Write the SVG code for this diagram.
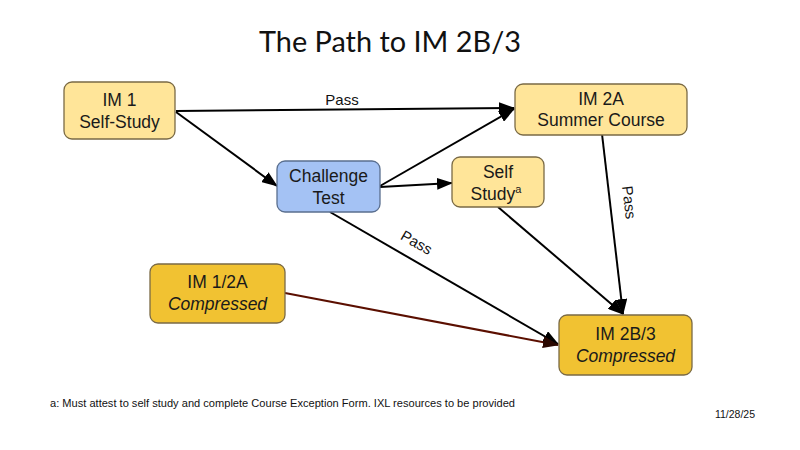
<svg xmlns="http://www.w3.org/2000/svg" width="800" height="450" viewBox="0 0 800 450">
<style>
  .box { stroke: #7a6a45; stroke-width: 1.3; }
  .lt { fill: #ffe599; }
  .bl { fill: #a4c2f4; stroke: #5a6f8f; }
  .dk { fill: #f1c232; }
  .t { font-family: "Liberation Sans", Arial, sans-serif; font-size: 17.5px; fill: #1a1a1a; text-anchor: middle; }
  .it { font-style: italic; }
  .lbl { font-family: "Liberation Sans", Arial, sans-serif; font-size: 15px; fill: #111; text-anchor: middle; }
  .ln { stroke: #000; stroke-width: 2; fill: none; marker-end: url(#ah); }
  .red { stroke: #5b0f00; stroke-width: 2; fill: none; marker-end: url(#ahr); }
</style>
<defs>
  <marker id="ah" markerUnits="userSpaceOnUse" markerWidth="16" markerHeight="12" refX="15" refY="6" orient="auto">
    <path d="M0,0 L16,6 L0,12 Z" fill="#000"/>
  </marker>
  <marker id="ahr" markerUnits="userSpaceOnUse" markerWidth="16" markerHeight="12" refX="15" refY="6" orient="auto">
    <path d="M0,0 L16,6 L0,12 Z" fill="#2a0800"/>
  </marker>
</defs>
<rect width="800" height="450" fill="#fff"/>
<text x="390" y="52" font-family="Lato, 'Open Sans', sans-serif" font-size="28" fill="#111" text-anchor="middle" textLength="262" lengthAdjust="spacingAndGlyphs">The Path to IM 2B/3</text>

<g id="connectors">
  <line class="ln" x1="176" y1="111" x2="514" y2="108"/>
  <text class="lbl" x="342" y="105">Pass</text>
  <line class="ln" x1="176" y1="112" x2="277" y2="186"/>
  <line class="ln" x1="380" y1="186" x2="514" y2="109"/>
  <line class="ln" x1="380" y1="187" x2="452" y2="183"/>
  <line class="ln" x1="602" y1="134" x2="623" y2="314"/>
  <text class="lbl" transform="translate(624,203) rotate(83)">Pass</text>
  <line class="ln" x1="498" y1="207" x2="623" y2="314"/>
  <line class="ln" x1="330" y1="212" x2="558" y2="344"/>
  <text class="lbl" transform="translate(414,247) rotate(30)">Pass</text>
  <line class="red" x1="285" y1="293" x2="558" y2="345"/>
</g>

<g id="im1">
  <rect class="box lt" x="64" y="82" width="111" height="57" rx="8"/>
  <text class="t" x="119.5" y="106">IM 1</text>
  <text class="t" x="119.5" y="128">Self-Study</text>
</g>
<g id="im2a">
  <rect class="box lt" x="515" y="84" width="172" height="51" rx="8"/>
  <text class="t" x="601" y="105">IM 2A</text>
  <text class="t" x="601" y="126">Summer Course</text>
</g>
<g id="challenge">
  <rect class="box bl" x="277" y="161" width="103" height="51" rx="8"/>
  <text class="t" x="328.5" y="182">Challenge</text>
  <text class="t" x="328.5" y="204">Test</text>
</g>
<g id="selfstudy">
  <rect class="box lt" x="452" y="157" width="92" height="50" rx="8"/>
  <text class="t" x="498" y="178">Self</text>
  <text class="t" x="496" y="200">Study<tspan font-size="11" dy="-7">a</tspan></text>
</g>
<g id="im12a">
  <rect class="box dk" x="150" y="264" width="135" height="59" rx="8"/>
  <text class="t" x="217.5" y="288">IM 1/2A</text>
  <text class="t it" x="217.5" y="310">Compressed</text>
</g>
<g id="im2b3">
  <rect class="box dk" x="559" y="315" width="133" height="60" rx="8"/>
  <text class="t" x="625.5" y="340">IM 2B/3</text>
  <text class="t it" x="625.5" y="362">Compressed</text>
</g>

<text x="50" y="407" font-family="'Liberation Sans', Arial, sans-serif" font-size="10.5" fill="#111" textLength="465" lengthAdjust="spacingAndGlyphs">a: Must attest to self study and complete Course Exception Form. IXL resources to be provided</text>
<text x="755" y="418" font-family="'Liberation Sans', Arial, sans-serif" font-size="10.5" fill="#111" text-anchor="end">11/28/25</text>
</svg>
